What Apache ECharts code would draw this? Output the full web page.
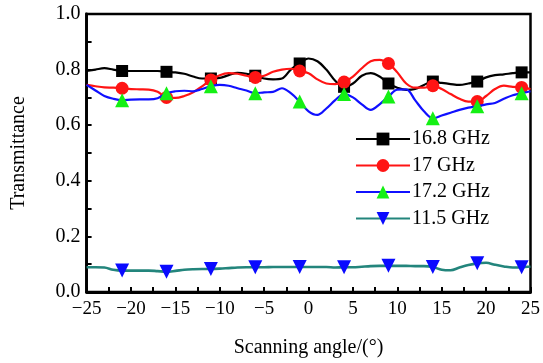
<!DOCTYPE html>
<html>
<head>
<meta charset="utf-8">
<script src="https://cdn.jsdelivr.net/npm/echarts@6/dist/echarts.min.js"></script>
<style>
  html, body { margin: 0; padding: 0; background: #fff; }
  #chart { width: 543px; height: 363px; }
</style>
</head>
<body>
<div id="chart"></div>
<script>
// Scanning angle (degrees) sampled at every degree
const angles = [-25,-24,-23,-22,-21,-20,-19,-18,-17,-16,-15,-14,-13,-12,-11,-10,-9,-8,-7,-6,-5,-4,-3,-2,-1,0,1,2,3,4,5,6,7,8,9,10,11,12,13,14,15,16,17,18,19,20,21,22,23,24,25];
// Angles where the measurement markers are drawn
const markerAngles = [-21,-16,-11,-6,-1,4,9,14,19,24];

const seriesNames = ['16.8 GHz', '17 GHz', '17.2 GHz', '11.5 GHz'];

const t168 = [0.795,0.80,0.805,0.80,0.795,0.795,0.795,0.795,0.795,0.792,0.79,0.785,0.775,0.768,0.768,0.77,0.78,0.788,0.785,0.778,0.768,0.765,0.768,0.80,0.822,0.84,0.83,0.80,0.76,0.738,0.75,0.778,0.787,0.775,0.75,0.735,0.727,0.73,0.745,0.757,0.752,0.748,0.745,0.75,0.757,0.772,0.78,0.783,0.787,0.79,0.79];
const t170 = [0.745,0.74,0.736,0.735,0.733,0.73,0.729,0.728,0.72,0.70,0.698,0.705,0.718,0.74,0.763,0.78,0.787,0.785,0.778,0.772,0.778,0.792,0.80,0.803,0.795,0.787,0.765,0.75,0.748,0.755,0.775,0.805,0.83,0.835,0.822,0.79,0.75,0.735,0.735,0.742,0.73,0.712,0.695,0.685,0.685,0.705,0.73,0.742,0.738,0.736,0.73];
const t172 = [0.745,0.725,0.705,0.695,0.69,0.692,0.693,0.693,0.697,0.715,0.722,0.724,0.722,0.73,0.74,0.745,0.742,0.733,0.725,0.715,0.718,0.72,0.733,0.715,0.685,0.65,0.637,0.66,0.69,0.712,0.70,0.675,0.655,0.675,0.703,0.728,0.729,0.69,0.65,0.625,0.635,0.645,0.655,0.663,0.668,0.675,0.68,0.695,0.708,0.715,0.722];
const t115 = [0.089,0.089,0.088,0.08,0.077,0.077,0.077,0.077,0.075,0.073,0.076,0.08,0.082,0.083,0.083,0.084,0.086,0.088,0.089,0.089,0.089,0.09,0.09,0.09,0.09,0.09,0.09,0.09,0.088,0.089,0.089,0.091,0.093,0.094,0.094,0.094,0.094,0.093,0.093,0.09,0.08,0.078,0.088,0.097,0.103,0.105,0.098,0.092,0.088,0.089,0.092];

const seriesValues = [t168, t170, t172, t115];
const lineColors = ['#000000', '#ff1414', '#1010ff', '#23857c'];
const markerColors = ['#000000', '#ff1414', '#14f014', '#0a0aff'];
const markerShapes = ['rect', 'circle', 'triangle', 'path://M0,0 L10,0 L5,9 Z'];
const markerSizes = [12, 13, 14, 14];

const serif = "'Liberation Serif', 'Times New Roman', serif";
const markerSet = new Set(markerAngles);

const chart = echarts.init(document.getElementById('chart'), null, { renderer: 'canvas' });

const series = seriesNames.map((name, i) => ({
  name: name,
  type: 'line',
  smooth: 0.35,
  data: angles.map((a, k) => [a, seriesValues[i][k]]),
  symbol: markerShapes[i],
  symbolSize: (v) => markerSet.has(v[0]) ? markerSizes[i] : 0,
  showSymbol: true,
  showAllSymbol: true,
  lineStyle: { color: lineColors[i], width: i === 3 ? 2.6 : 2.2 },
  itemStyle: { color: markerColors[i], borderWidth: 0 },
  emphasis: { disabled: true },
  z: 2 + i
}));

chart.setOption({
  animation: false,
  backgroundColor: '#ffffff',
  grid: {
    left: 86.6, right: 8.4, top: 14, bottom: 71,
    show: true, borderColor: '#000', borderWidth: 2.5, backgroundColor: 'transparent'
  },
  legend: {
    orient: 'vertical',
    left: 350, top: 124,
    itemWidth: 54, itemHeight: 16, itemGap: 6.5,
    data: seriesNames,
    textStyle: { fontFamily: serif, fontSize: 20, color: '#000', padding: [0, 0, 0, -3] }
  },
  xAxis: {
    type: 'value', min: -25, max: 25, interval: 5,
    name: 'Scanning angle/(°)', nameLocation: 'middle', nameGap: 46,
    nameTextStyle: { fontFamily: serif, fontSize: 20, color: '#000' },
    axisLine: { onZero: false, lineStyle: { color: '#000', width: 2.8 } },
    axisTick: { inside: true, length: 5, lineStyle: { color: '#000', width: 2 } },
    minorTick: { show: true, splitNumber: 2, length: 5, lineStyle: { color: '#000', width: 2 } },
    splitLine: { show: false },
    axisLabel: {
      fontFamily: serif, fontSize: 19, color: '#000', margin: 8,
      formatter: (v) => (v < 0 ? '\u2212' + Math.abs(v) : String(v))
    }
  },
  yAxis: {
    type: 'value', min: 0, max: 1, interval: 0.2,
    name: 'Transmittance', nameLocation: 'middle', nameGap: 58,
    nameTextStyle: { fontFamily: serif, fontSize: 20, color: '#000' },
    axisLine: { onZero: false, lineStyle: { color: '#000', width: 2.8 } },
    axisTick: { inside: true, length: 5, lineStyle: { color: '#000', width: 2 } },
    minorTick: { show: true, splitNumber: 2, length: 5, lineStyle: { color: '#000', width: 2 } },
    splitLine: { show: false },
    axisLabel: {
      fontFamily: serif, fontSize: 20, color: '#000', margin: 6,
      formatter: (v) => v.toFixed(1)
    }
  },
  series: series
});
</script>
</body>
</html>
